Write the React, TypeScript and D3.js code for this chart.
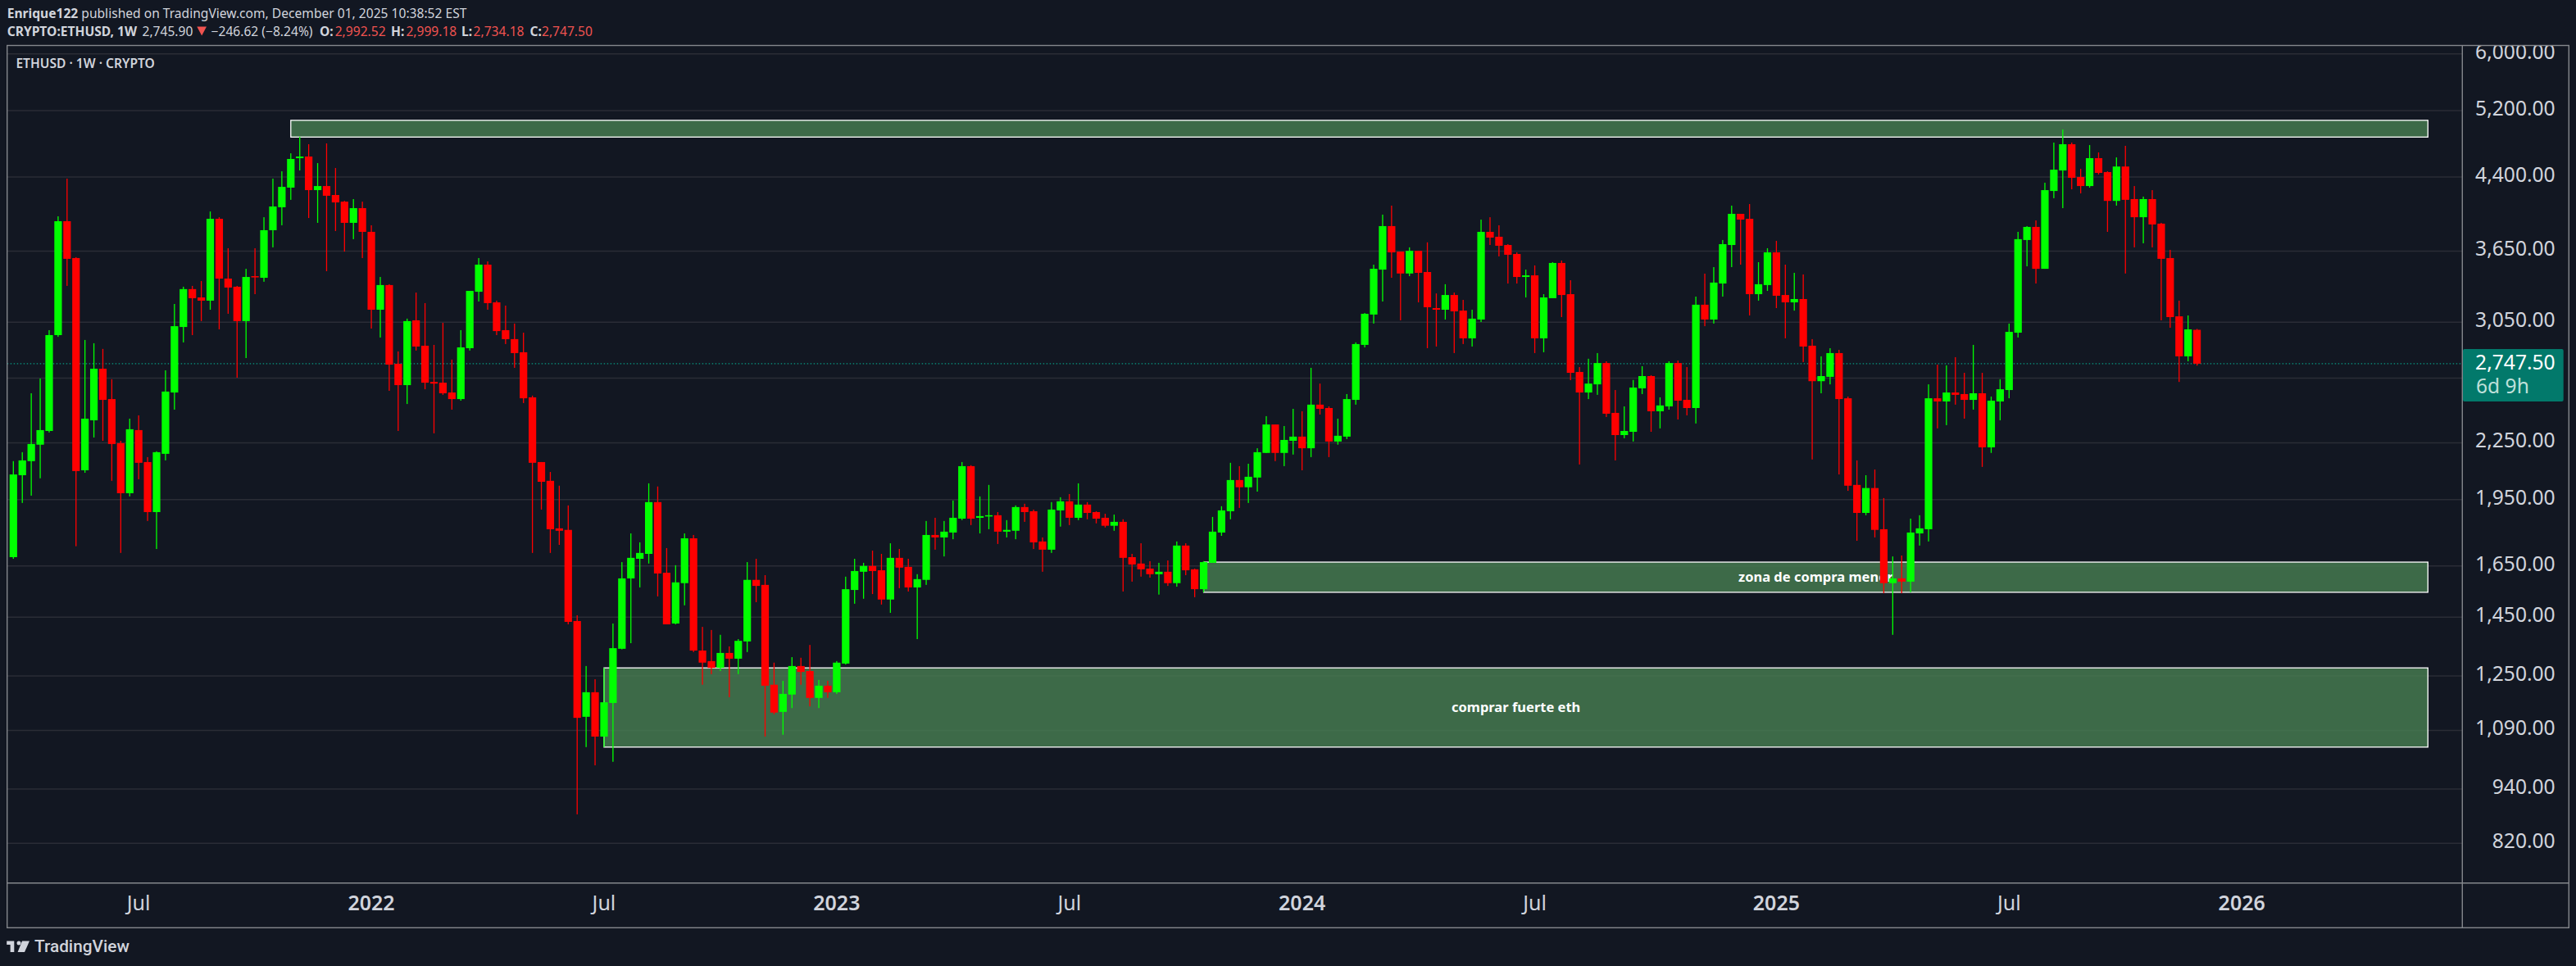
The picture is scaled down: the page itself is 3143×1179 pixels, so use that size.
import React from "react";
import * as d3 from "d3";

const opens = [
1687,2074,2149,2240,2319,2953,3935,3586,2100,2382,
2713,2513,2249,1982,2324,2144,1890,2189,2555,3014,
3316,3247,3221,3959,3405,3336,3059,3426,3412,3847,
4076,4283,4613,4632,4256,4300,4204,4134,3919,4067,
3831,3148,3350,2747,2603,3065,2875,2624,2619,2555,
2513,2857,3294,3527,3207,2990,2923,2828,2524,2144,
2045,1814,1807,1436,1128,1200,1073,1168,1339,1599,
1680,1701,1938,1622,1427,1580,1769,1333,1298,1276,
1325,1306,1364,1593,1573,1223,1142,1193,1282,1266,
1183,1220,1200,1290,1553,1626,1650,1632,1516,1684,
1646,1563,1593,1784,1773,1795,1859,2122,1863,1871,
1875,1799,1803,1914,1894,1755,1719,1898,1942,1863,
1926,1890,1863,1826,1844,1687,1660,1639,1616,1626,
1580,1737,1636,1556,1663,1795,1894,2049,2012,2062,
2194,2357,2194,2262,2286,2220,2478,2457,2258,2286,
2508,2881,3110,3483,3887,3645,3449,3652,3462,3161,
3148,3267,3141,2929,3071,3831,3784,3706,3623,3419,
3433,2929,3241,3542,3274,2691,2555,2608,2752,2427,
2295,2314,2582,2663,2437,2467,2752,2508,2457,3188,
3071,3363,3706,4009,3959,3274,3350,3638,3267,3207,
3234,2875,2629,2658,2822,2518,2024,1886,2008,1810,
1580,1599,1586,1791,1810,2518,2498,2555,2545,2508,
2550,2225,2498,2571,2971,3753,3879,3490,4247,4472,
4778,4399,4300,4613,4454,4142,4517,4161,3975,4161,
3911,3586,3096,2799,2992.52];

const highs = [
2149,2198,2550,2647,2990,3984,4381,3594,2917,2893,
2852,2642,2262,2392,2412,2171,2203,2702,3194,3336,
3343,3384,4033,3975,3676,3343,3490,3676,3975,4381,
4463,4670,4868,4778,4556,4788,4500,4142,4161,4134,
3895,3419,3357,2834,3078,3287,3201,2881,3046,2776,
2990,3301,3586,3556,3221,3181,3040,2971,2535,2144,
2091,2020,1922,1457,1282,1240,1276,1427,1666,1791,
1751,2032,2016,1726,1653,1791,1784,1415,1404,1387,
1347,1372,1666,1680,1612,1293,1235,1311,1309,1352,
1238,1235,1298,1606,1680,1663,1715,1701,1747,1722,
1680,1616,1848,1863,1848,1946,2144,2127,1966,2024,
1890,1852,1922,1930,1902,1773,1938,1962,1978,2032,
1938,1894,1882,1878,1856,1701,1747,1670,1663,1673,
1755,1747,1639,1670,1867,1918,2140,2122,2135,2220,
2407,2357,2348,2452,2437,2719,2613,2467,2392,2545,
2899,3122,3527,4001,4093,3645,3684,3652,3731,3280,
3357,3287,3227,3148,3951,3975,3895,3714,3638,3483,
3520,3274,3549,3564,3391,2724,2782,2822,2764,2571,
2467,2637,2730,2669,2524,2764,2770,2724,3254,3448,
3505,3753,4093,4009,4109,3549,3676,3745,3527,3455,
3441,2923,2799,2857,2845,2529,2153,2074,2104,1958,
1690,1694,1859,1875,2608,2741,2736,2793,2685,2881,
2685,2529,2642,3040,3831,3887,3943,4336,4798,4959,
4798,4490,4768,4680,4463,4622,4759,4300,4187,4256,
3919,3661,3221,3103,2999.18];

const lows = [
1680,1934,1970,2058,2310,2940,3343,1734,2087,2281,
2262,2045,1705,1966,2053,1848,1722,2153,2447,2899,
2953,3059,3148,2996,3116,2652,2787,3274,3378,3684,
3895,4153,4472,3967,3919,3469,3839,3645,3761,3586,
3002,2935,2566,2319,2482,2840,2576,2305,2540,2447,
2503,2840,3214,3148,2953,2887,2719,2488,1705,1902,
1705,1740,1424,882,1045,998,1045,1007,1337,1358,
1563,1660,1528,1424,1424,1494,1328,1223,1256,1266,
1185,1256,1328,1506,1073,1135,1078,1153,1223,1158,
1153,1183,1195,1287,1500,1519,1537,1497,1466,1560,
1547,1372,1573,1719,1690,1765,1852,1829,1791,1810,
1744,1773,1765,1844,1722,1626,1705,1822,1829,1852,
1856,1837,1818,1803,1547,1586,1606,1602,1535,1569,
1566,1612,1525,1544,1663,1780,1856,1910,1934,1990,
2194,2149,2122,2185,2100,2171,2417,2171,2240,2272,
2478,2863,3040,3214,3412,3065,3426,3207,2857,2869,
3071,2822,2887,2869,3052,3706,3601,3363,3363,3247,
2822,2828,3241,3090,2636,2131,2513,2540,2402,2153,
2277,2258,2545,2314,2334,2447,2387,2412,2363,3020,
3040,3254,3505,3527,3103,3221,3301,3161,2929,3141,
2759,2158,2550,2608,2078,1994,1758,1875,1773,1540,
1387,1540,1544,1737,1755,2334,2353,2478,2392,2447,
2118,2194,2382,2518,2935,3512,3363,3490,4170,4067,
4265,4221,4283,4427,3831,4093,3449,3684,3722,3684,
3065,3008,2624,2764,2734.18];

const closes = [
2078,2153,2244,2324,2953,3935,3579,2096,2392,2713,
2508,2244,1982,2329,2140,1890,2198,2561,3020,3316,
3241,3221,3959,3405,3329,3059,3419,3419,3847,4084,
4291,4604,4632,4256,4300,4196,4126,3919,4067,3831,
3148,3350,2741,2603,3059,2869,2619,2613,2550,2513,
2863,3301,3527,3201,2983,2923,2822,2518,2140,2040,
1810,1803,1433,1125,1200,1073,1170,1341,1599,1684,
1705,1938,1619,1424,1583,1769,1333,1293,1276,1325,
1306,1366,1593,1569,1220,1140,1195,1282,1263,1183,
1220,1200,1293,1556,1629,1650,1629,1516,1684,1643,
1563,1596,1784,1773,1799,1863,2122,1859,1871,1875,
1799,1807,1914,1890,1751,1719,1902,1942,1863,1926,
1886,1859,1826,1844,1684,1656,1636,1616,1626,1580,
1737,1632,1556,1666,1799,1898,2049,2012,2066,2198,
2357,2194,2267,2286,2220,2478,2452,2258,2291,2513,
2887,3116,3490,3887,3638,3449,3652,3455,3168,3148,
3267,3135,2929,3078,3831,3776,3699,3616,3419,3433,
2929,3247,3542,3267,2685,2555,2613,2752,2422,2295,
2319,2587,2663,2437,2473,2752,2503,2457,3188,3071,
3371,3714,4009,3951,3274,3357,3638,3261,3207,3234,
2869,2629,2663,2822,2513,2020,1886,2008,1807,1580,
1599,1586,1795,1814,2518,2498,2555,2540,2508,2550,
2225,2503,2576,2977,3761,3879,3490,4256,4481,4778,
4390,4300,4613,4445,4142,4517,4153,3975,4161,3903,
3579,3090,2799,2996,2747.5];

const priceTicks = [6000, 5200, 4400, 3650, 3050, 2650, 2250, 1950, 1650, 1450, 1250, 1090, 940, 820];
const hiddenPriceLabels = [2650];
const timeLabels = ["Jul", "2022", "Jul", "2023", "Jul", "2024", "Jul", "2025", "Jul", "2026"];
const timeBars = [14, 40, 66, 92, 118, 144, 170, 197, 223, 249];

const zoneTexts = ["", "zona de compra menor", "comprar fuerte eth"];
const zoneHigh = [5075, 1666, 1276];
const zoneLow = [4865, 1544, 1045];
const zoneFrom = [31, 133, 66];
const zoneTo = [269.8, 269.8, 269.8];

const lastPrice = 2747.5;

const W = 3143;
const H = 1179;
const BG = "#121722";
const GRID = "#2a2d36";
const BORDER = "#84878c";
const TXT = "#d1d4dc";
const UP = "#00ff00";
const DOWN = "#ff0000";
const SANS = "'Noto Sans', sans-serif";

const x = d3.scaleLinear().domain([0, 244]).range([16.3, 2680.6]);
const y = d3.scaleLog().domain([6000, 820]).range([65.8, 1029.2]);
const fmt = d3.format(",.2f");

const PL = 8.7, PR = 3004.3, PT = 55.5, PB = 1077.7, FR = 3134.3, FB = 1132.3;
const BW = 9.2;

export default function App() {
  return (
    <svg width={W} height={H} viewBox={`0 0 ${W} ${H}`} style={{ position: "absolute", left: 0, top: 0, background: BG, display: "block" }}>
      <defs>
        <clipPath id="plot"><rect x={PL} y={PT} width={PR - PL} height={PB - PT} /></clipPath>
        <clipPath id="axis"><rect x={PR} y={PT} width={FR - PR} height={PB - PT} /></clipPath>
      </defs>
      <rect width={W} height={H} fill={BG} />

      <g fontFamily={SANS} fontSize={15.6} fill={TXT}>
        <text x={8.7} y={22}><tspan fontWeight={700}>Enrique122</tspan> published on TradingView.com, December 01, 2025 10:38:52 EST</text>
        <text x={8.7} y={44} fontWeight={700}>CRYPTO:ETHUSD, 1W</text>
        <text x={173.5} y={44}>2,745.90</text>
        <path d="M240.3 32.5H252L246.2 43.5Z" fill="#ef5350" />
        <text x={257.6} y={44}>−246.62 (−8.24%)</text>
        <text x={390} y={44} fontWeight={700}>O:</text>
        <text x={408.7} y={44} fill="#ef5350">2,992.52</text>
        <text x={477} y={44} fontWeight={700}>H:</text>
        <text x={495.4} y={44} fill="#ef5350">2,999.18</text>
        <text x={563} y={44} fontWeight={700}>L:</text>
        <text x={577.6} y={44} fill="#ef5350">2,734.18</text>
        <text x={646.4} y={44} fontWeight={700}>C:</text>
        <text x={661} y={44} fill="#ef5350">2,747.50</text>
      </g>

      <g clipPath="url(#plot)">
        {priceTicks.map((p) => (
          <line key={p} x1={PL} x2={PR} y1={y(p)} y2={y(p)} stroke={GRID} strokeWidth={1.5} />
        ))}
        <line x1={PL} x2={PR} y1={y(lastPrice)} y2={y(lastPrice)} stroke="#089981" strokeWidth={1.4} strokeDasharray="1.5 2.5" />
        {zoneHigh.map((hi, k) => (
          <rect key={k} x={x(zoneFrom[k])} y={y(hi)} width={x(zoneTo[k]) - x(zoneFrom[k])} height={y(zoneLow[k]) - y(hi)}
            fill="rgba(72,127,82,0.8)" stroke="#ffffff" strokeWidth={1.3} />
        ))}
        {zoneTexts.map((t, k) => t && (
          <text key={k} x={(x(zoneFrom[k]) + x(zoneTo[k])) / 2} y={(y(zoneHigh[k]) + y(zoneLow[k])) / 2} dy="0.35em"
            textAnchor="middle" fontFamily={SANS} fontSize={16.5} fontWeight={700} fill="#ffffff">{t}</text>
        ))}
        {opens.map((o, i) => {
          const c = closes[i];
          const col = c >= o ? UP : DOWN;
          const top = y(Math.max(o, c));
          const bot = y(Math.min(o, c));
          return (
            <g key={i} fill={col}>
              <rect x={x(i) - 0.65} y={y(highs[i])} width={1.3} height={y(lows[i]) - y(highs[i])} />
              <rect x={x(i) - BW / 2} y={top} width={BW} height={Math.max(bot - top, 1.5)} />
            </g>
          );
        })}
      </g>

      <text x={19.4} y={83} fontFamily={SANS} fontSize={15.6} fontWeight={600} fill={TXT}>ETHUSD · 1W · CRYPTO</text>

      <g clipPath="url(#axis)" fontFamily={SANS} fontSize={24.6} fill={TXT} textAnchor="end">
        {priceTicks.filter((p) => !hiddenPriceLabels.includes(p)).map((p) => (
          <text key={p} x={3117.7} y={y(p) + 5.8}>{fmt(p)}</text>
        ))}
      </g>

      <rect x={3005} y={426} width={122.7} height={64} rx={2} fill="#02796b" />
      <text x={3117.7} y={451} textAnchor="end" fontFamily={SANS} fontSize={24.6} fill="#ffffff">{fmt(lastPrice)}</text>
      <text x={3021} y={480} fontFamily={SANS} fontSize={24.6} fill="#bfe0da">6d 9h</text>

      <g fontFamily={SANS} fontSize={25} fill={TXT} textAnchor="middle">
        {timeLabels.map((t, k) => (
          <text key={k} x={x(timeBars[k])} y={1110.5} fontWeight={/\d/.test(t) ? 600 : 400}>{t}</text>
        ))}
      </g>

      <g fill="none" stroke={BORDER} strokeWidth={1.4}>
        <rect x={PL} y={PT} width={FR - PL} height={FB - PT} />
        <line x1={PL} x2={FR} y1={PB} y2={PB} />
        <line x1={PR} x2={PR} y1={PT} y2={FB} />
      </g>

      <g fill="#d1d4dc">
        <path d="M8.2 1148.5H17.3V1162H12.6V1153H8.2Z" />
        <circle cx={23} cy={1151} r={2.5} />
        <path d="M27 1148.5H36L30 1162H21.6Z" />
        <text x={42} y={1162} fontFamily="Roboto, sans-serif" fontSize={20.8} fontWeight={500}>TradingView</text>
      </g>
    </svg>
  );
}
